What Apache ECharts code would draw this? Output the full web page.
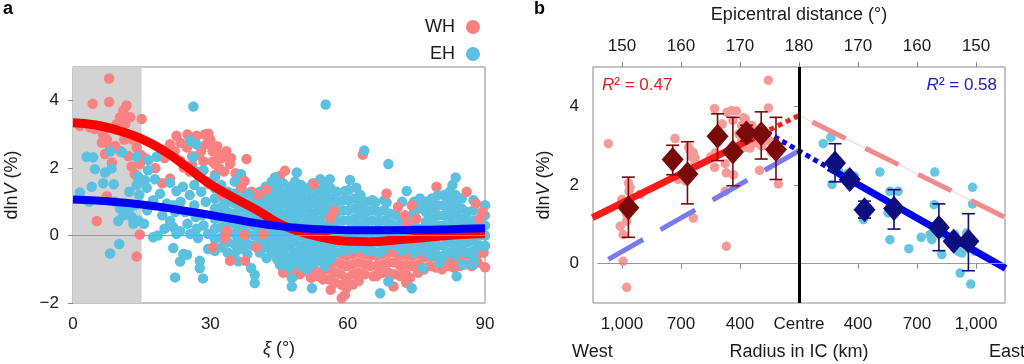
<!DOCTYPE html>
<html><head><meta charset="utf-8">
<script src="https://cdn.jsdelivr.net/npm/echarts@6/dist/echarts.min.js"></script>
<style>html,body{margin:0;padding:0;background:#fff}#c{width:1024px;height:364px}</style>
</head><body><div id="c"></div>
<script>
// ---------------- Panel a data ----------------
const xiTicks = [0, 30, 60, 90];
const fitXi = [0,5,10,15,20,25,30,35,40,45,50,55,60,65,70,75,80,85,90];
const whFit = [3.35,3.28,3.11,2.87,2.5,2.02,1.52,1.13,0.77,0.36,0.1,-0.07,-0.17,-0.18,-0.14,-0.08,-0.02,0.03,0.06];
const ehFit = [1.07,1.04,0.99,0.92,0.83,0.72,0.61,0.49,0.37,0.28,0.22,0.18,0.16,0.16,0.16,0.17,0.18,0.2,0.22];

// WH (western hemisphere) scattered points
const whPts = [
 [7.9,4.66],[4.3,3.91],[7.9,3.96],[11.7,3.86],[11.0,3.71],[10.3,3.51],[12.5,3.51],[11.4,3.31],[10.0,3.16],[15.0,3.46],
 [3.7,3.21],[4.8,3.16],[1.5,3.25],[6.6,3.0],[6.3,2.76],[7.4,2.86],[8.1,2.61],[7.0,2.42],[9.2,2.66],[10.3,2.51],
 [12.1,2.36],[13.9,2.61],[14.6,2.12],[13.5,1.82],[14.3,1.62],[8.5,2.17],[12.0,3.0],[13.0,2.85],[9.5,3.3],[12.8,2.05],
 [14.8,2.4],[11.2,2.85],[5.2,0.43],[14.6,0.03],[13.9,-0.62],[7.4,1.17],
 [15.7,2.3],[18.0,2.0],[20.0,2.3],[19.5,1.55],[21.2,2.71],[22.6,2.96],[21.2,1.69],[23.4,2.22],[24.2,2.02],[24.9,2.61],
 [23.5,2.75],[25.5,1.9],[26.0,2.35],[26.5,2.75],[27.0,2.96],[27.5,1.75],[28.0,2.5],[28.5,2.2],[29.1,3.0],[29.1,2.71],
 [29.6,3.02],[29.9,2.72],[30.0,2.85],[30.5,2.5],[31.0,2.12],[31.0,1.8],[31.7,2.42],[32.5,2.3],[33.0,1.9],[33.5,2.5],
 [34.3,2.12],[34.5,2.3],[35.5,1.85],[36.0,1.6],[37.9,2.27],[25.0,3.0],[26.0,2.1],[27.5,2.4],[30.5,2.2],[31.5,2.65],
 [32.0,2.0],[28.0,1.9],[22.2,2.5],[28.8,3.0],[39.0,1.3],[44.0,1.5],[45.2,1.77],[46.3,1.92],[63.3,2.40],[79.4,1.45],
 [45.6,-0.56],[45.9,-1.1],[48.2,-1.21],[50.7,-1.06],[52.6,-0.96],[56.3,-1.61],[58.7,-1.46],[58.7,-1.86],[59.4,-1.76],
 [59.8,-1.26],[65.6,-1.21],[70.0,-1.51],[73.6,-1.26],[90.0,-0.94],[46.5,-0.35]
];
// WH dense band below the EH cloud (columns of readings)
const whCloud = [
 [45.6,[-0.9]],[46.9,[-1.1,-0.75]],[48.2,[-1.0]],[49.5,[-0.95,-1.15]],[50.7,[-0.85]],[52.0,[-1.0,-1.25]],
 [53.3,[-1.2]],[54.6,[-1.05,-1.3]],[55.9,[-1.0,-1.3]],[57.2,[-0.8,-1.1,-1.4]],[58.5,[-0.55,-0.85,-1.15]],
 [59.8,[-0.6,-0.9,-1.55]],[61.1,[-0.55,-0.85,-1.15,-1.45]],[62.4,[-0.5,-0.8,-1.1,-1.35]],[63.7,[-0.55,-0.85,-1.15]],
 [65.0,[-0.6,-0.9]],[66.3,[-0.6,-0.9,-1.2]],[67.6,[-0.55,-0.85,-1.1]],[68.9,[-0.5,-0.8,-1.1]],[70.2,[-0.5,-0.8,-1.15]],
 [71.5,[-0.6,-0.9,-1.2]],[72.8,[-0.55,-0.85,-1.15,-1.4]],[74.1,[-0.6,-0.9]],[75.4,[-0.55,-0.85,-1.1]],[76.7,[-0.65,-1.0]],
 [78.0,[-0.6,-0.9]],[79.3,[-0.65,-0.95]],[80.6,[-0.7,-1.0]],[81.9,[-0.65,-0.9]],[83.2,[-0.7,-0.95]],[84.5,[-0.6,-0.9]],
 [85.8,[-0.55,-0.85]],[87.1,[-0.6,-0.9]],[88.4,[-0.55,-0.8]],[89.7,[-0.5]]
];
// WH points that sit on top of the EH cloud
const whTopPts = [
 [29.6,1.52],[32.5,1.22],[36.8,1.42],[37.5,1.62],[40.5,1.22],[42.3,1.37],[30.6,-0.35],[34.3,-0.75],[33.2,-0.07],
 [37.5,0.03],[37.6,-0.75],[40.1,-0.35],[41.6,0.05],[33.6,0.15],[52.6,1.52],[57.0,0.73],[56.3,0.53],[68.5,1.25],
 [71.0,0.85],[72.5,0.6],[74.0,0.9],[75.0,0.5],[73.0,0.35],[88.0,0.95],[89.5,0.7],[88.8,0.5],[86.0,1.3]
];

// EH (eastern hemisphere) scattered points
const ehPts = [
 [1.5,1.28],[3.0,2.34],[4.4,2.32],[4.1,1.45],[4.8,1.97],[6.6,1.55],[7.0,1.87],[8.9,1.52],[8.4,1.99],[8.1,2.49],
 [10.7,2.47],[13.9,2.34],[13.9,1.5],[10.3,0.8],[9.9,0.43],[11.0,0.6],[13.2,0.35],[14.3,0.45],[12.1,0.75],[12.8,0.55],
 [10.1,-0.25],[8.1,-0.53],[3.5,1.0],[9.2,1.0],[11.5,0.95],[13.5,0.9],[14.5,1.2],[14.2,1.75],[12.3,1.3],
 [15.7,1.64],[16.4,1.94],[16.5,2.24],[16.1,1.42],[17.5,1.05],[16.2,0.75],[15.5,0.35],[17.5,-0.05],[17.9,1.67],
 [18.3,2.34],[19.0,1.24],[19.5,0.6],[20.5,0.95],[21.2,1.57],[22.6,1.32],[21.9,0.9],[22.3,0.7],[21.2,0.43],[21.9,0.25],
 [22.6,0.05],[23.4,0.13],[21.9,-0.37],[22.3,-1.24],[24.1,-0.55],[24.9,-0.57],[23.4,-0.77],[23.5,1.0],[24.0,1.45],
 [24.5,0.7],[25.0,0.35],[25.6,0.05],[25.5,1.2],[26.3,1.94],[26.5,1.5],[26.5,0.9],[26.8,0.55],[27.3,-0.07],[27.0,0.2],
 [27.7,1.82],[27.7,-0.97],[28.4,-1.27],[28.0,1.3],[28.2,0.6],[28.5,1.94],[28.5,0.3],[29.0,1.0],[29.5,1.6],[29.5,0.05],
 [29.5,-0.4],[26.3,3.83],[25.6,2.81],[27.0,2.71],[26.3,2.32],[27.7,-0.75],[20.0,0.2],[18.5,0.0],
 [67.1,-1.71],[74.0,-1.56],[68.9,-1.36],[76.5,-0.96],[80.1,-0.81],[83.8,-1.21],[87.4,-0.86],[85.2,-0.86],[63.6,2.52],
 [68.9,2.12],[72.9,1.32],[59.4,1.32],[61.9,1.42],[55.2,3.89],[44.1,1.72],[48.9,1.87],[54.0,1.67],[56.1,1.67],
 [52.2,-1.56],[47.8,-1.51],[45.2,-0.86],[42.3,-0.67],[36.1,-0.76],[38.9,-0.96],[39.7,-1.16],[39.7,-1.41],[47.8,-1.26],
 [66.0,0.98],[68.5,0.98],[60.5,1.65],[82.9,1.5]
];
// EH dense cloud (columns of readings)
const ehCloud = [
 [31.0,[1.74,1.4,1.1,0.8,0.5,0.2,-0.1,-0.45]],[32.4,[1.5,1.15,0.85,0.55,0.25,-0.05,-0.35]],
 [33.8,[1.3,1.0,0.7,0.4,0.1,-0.2,-0.5]],[35.3,[1.6,1.25,0.95,0.65,0.35,0.05,-0.25,-0.55]],
 [36.7,[1.82,1.4,1.1,0.8,0.5,0.2,-0.1,-0.4]],[38.1,[1.25,0.95,0.65,0.35,0.05,-0.25,-0.55]],
 [39.5,[1.17,0.9,0.6,0.3,0.0,-0.3]],[40.8,[1.3,1.0,0.7,0.4,0.1,-0.2,-0.5]],
 [42.1,[1.45,1.15,0.85,0.55,0.25,-0.05,-0.35]],[43.4,[1.6,1.3,1.0,0.7,0.4,0.1,-0.2,-0.5]],
 [44.6,[1.4,1.1,0.8,0.5,0.2,-0.1,-0.4,-0.7]],[45.9,[1.55,1.25,0.95,0.65,0.35,0.05,-0.25,-0.55,-0.85]],
 [47.2,[1.45,1.15,0.85,0.55,0.25,-0.05,-0.35,-0.65,-0.95]],[48.5,[1.6,1.3,1.0,0.7,0.4,0.1,-0.2,-0.5,-0.8]],
 [49.8,[1.5,1.2,0.9,0.6,0.3,0.0,-0.3,-0.6,-0.9]],[51.1,[1.4,1.1,0.8,0.5,0.2,-0.1,-0.4,-0.7,-1.0]],
 [52.4,[1.55,1.25,0.95,0.65,0.35,0.05,-0.25,-0.55,-0.85]],[53.7,[1.35,1.05,0.75,0.45,0.15,-0.15,-0.45,-0.75]],
 [55.0,[1.5,1.2,0.9,0.6,0.3,0.0,-0.3,-0.6,-0.9]],[56.3,[1.4,1.1,0.8,0.5,0.2,-0.1,-0.4,-0.7]],
 [57.6,[1.3,1.0,0.7,0.4,0.1,-0.2,-0.5]],[58.9,[1.05,0.75,0.45,0.15,-0.15,-0.45]],
 [60.2,[1.35,1.05,0.75,0.45,0.15,-0.15,-0.4]],[61.5,[1.1,0.8,0.5,0.2,-0.1,-0.4]],
 [62.8,[1.2,0.9,0.6,0.3,0.0,-0.3]],[64.1,[1.0,0.7,0.4,0.1,-0.2,-0.45]],
 [65.4,[1.05,0.75,0.45,0.15,-0.15,-0.45]],[66.7,[0.7,0.4,0.1,-0.2,-0.5]],
 [68.0,[1.05,0.75,0.45,0.15,-0.15,-0.4]],[69.3,[0.65,0.35,0.05,-0.25]],
 [70.6,[0.6,0.3,0.0,-0.3]],[71.9,[1.0,0.4,0.1,-0.2,-0.45]],
 [73.2,[0.55,0.25,-0.05,-0.35]],[74.5,[1.0,0.7,0.4,0.1,-0.2,-0.5]],
 [75.8,[1.1,0.8,0.2,-0.1,-0.4]],[77.1,[1.0,0.7,0.4,0.1,-0.2,-0.5]],
 [78.4,[1.1,0.8,0.5,0.2,-0.1,-0.4,-0.6]],[79.7,[1.2,0.9,0.6,0.3,0.0,-0.3,-0.6]],
 [81.0,[1.2,0.9,0.6,0.3,0.0,-0.3,-0.6]],[82.3,[1.3,1.0,0.7,0.4,0.1,-0.2,-0.5]],
 [83.6,[1.72,1.2,0.9,0.6,0.3,0.0,-0.3,-0.6]],[84.9,[1.1,0.8,0.5,0.2,-0.1,-0.4]],
 [86.2,[0.7,0.4,0.1,-0.2,-0.5]],[87.5,[1.05,0.75,0.45,0.15,-0.15,-0.45,-0.7]],
 [88.8,[0.3,0.0,-0.3]],[90.0,[0.9,0.6,0.3,0.0,-0.3]]
];

// ---------------- Panel b data ----------------
// x = signed epicentral offset from 180 deg (West negative, East positive)
const bTicks = [-30, -20, -10, 0, 10, 20, 30];
const radiusLabels = ['1,000', '700', '400', 'Centre', '400', '700', '1,000'];
const epiLabels = ['150', '160', '170', '180', '170', '160', '150'];
const bWhPts = [
 [-32.3,3.05],[-29.8,0.06],[-29.2,-0.60],[-30.0,1.63],[-30.3,0.95],[-29.8,0.74],[-28.9,2.05],[-28.8,1.84],[-26.9,1.76],
 [-29.2,1.08],[-29.2,1.26],[-28.6,1.94],[-21.0,3.18],[-20.5,2.14],[-19.3,2.11],[-18.7,2.96],[-18.5,2.90],[-18.1,2.71],
 [-17.9,2.82],[-17.6,2.69],[-17.6,2.54],[-17.9,1.16],[-15.0,2.71],[-14.3,3.94],[-14.2,2.82],[-14.3,2.45],[-12.5,1.84],
 [-12.3,0.44],[-12.3,2.31],[-12.5,2.54],[-11.1,2.26],[-12.2,3.85],[-11.4,3.89],[-10.6,3.88],[-11.2,3.64],[-9.4,3.71],
 [-9.7,3.51],[-9.1,3.68],[-8.0,3.51],[-9.7,3.11],[-9.1,2.96],[-8.3,2.94],[-7.2,3.07],[-6.3,2.99],[-6.7,2.37],
 [-5.2,4.66],[-5.2,3.96],[-5.1,3.13],[-4.6,2.82],[-3.5,2.03],[-10.2,3.3],[-13.0,3.55]
];
const bEhPts = [
 [4.1,3.05],[5.4,3.21],[5.6,2.01],[6.7,2.35],[9.4,2.22],[8.3,2.3],[10.9,1.12],[13.7,2.33],[15.4,1.84],[16.8,1.84],
 [15.4,0.61],[15.1,1.29],[18.6,0.38],[20.7,0.67],[22.2,0.74],[23.0,2.33],[22.5,0.61],[24.2,0.23],[22.9,1.50],
 [26.4,0.74],[27.0,0.31],[27.6,0.27],[29.4,1.94],[29.4,1.52],[29.8,0.31],[27.3,-0.24],[29.1,-0.52],[28.4,0.78],
 [25.9,0.55],[24.5,0.75]
];
// bins: [x, mean, low, high]
const westBins = [[-28.9,1.42,0.67,2.20],[-21.4,2.65,2.26,3.01],[-18.9,2.28,1.52,3.10],[-13.8,3.24,2.62,3.81],
 [-11.2,2.84,1.98,3.72],[-8.9,3.32,3.12,3.52],[-6.4,3.30,2.66,3.86],[-3.9,2.90,2.14,3.72]];
const eastBins = [[6.1,2.56,2.08,3.05],[8.6,2.14,2.03,2.26],[11.1,1.37,1.16,1.59],[16.1,1.40,0.88,1.88],
 [23.7,0.92,0.33,1.52],[26.2,0.57,0.47,0.67],[28.7,0.57,-0.18,1.27]];
const westFitSolid = [[-35,1.17],[-7.7,3.20]];
const westFitDotted = [[-7.7,3.20],[0,3.77]];
const westFitMirror = [[0,3.77],[35,1.17]];
const eastFitSolid = [[5,2.44],[35,-0.12]];
const eastFitDotted = [[-5.5,3.34],[5,2.44]];
const eastFitMirror = [[-32.3,0.11],[0,2.87]];

// ---------------- Chart ----------------
const FONT = "'Liberation Sans', Arial, Helvetica, sans-serif";
const TXT = '#1a1a1a';
const C_WH = '#F88282', C_EH = '#5CC0DF';
const C_WH_B = '#F79A9A', C_EH_B = '#66C5E0';
const flat = cols => cols.flatMap(c => c[1].map(v => [c[0], v]));
const minus = v => String(v).replace('-', '\u2212');

function errRender(color) {
  return function (params, api) {
    const x = api.value(0), lo = api.value(2), hi = api.value(3);
    const a = api.coord([x, lo]), b = api.coord([x, hi]);
    const w = 6.5, st = { stroke: color, lineWidth: 1.6 };
    return { type: 'group', children: [
      { type: 'line', shape: { x1: a[0], y1: a[1], x2: b[0], y2: b[1] }, style: st },
      { type: 'line', shape: { x1: a[0] - w, y1: a[1], x2: a[0] + w, y2: a[1] }, style: st },
      { type: 'line', shape: { x1: b[0] - w, y1: b[1], x2: b[0] + w, y2: b[1] }, style: st }
    ]};
  };
}
const lineSeg = (data, color, width, type, z, extra) => Object.assign({
  type: 'line', xAxisIndex: 1, yAxisIndex: 1, data: data, showSymbol: false, silent: true, z: z,
  lineStyle: { color: color, width: width, type: type || 'solid', cap: 'butt' }, animation: false
}, extra || {});
const dot = c => ({ color: c, opacity: 1 });

const tickStyle = { show: true, length: 5, lineStyle: { color: '#888', width: 1 } };
const lab = { fontSize: 17, color: TXT, fontFamily: FONT };

const option = {
  animation: false,
  textStyle: { fontFamily: FONT },
  grid: [
    { left: 73, top: 67, width: 412, height: 236, show: true, borderColor: '#8a8a8a', borderWidth: 1, backgroundColor: 'transparent' },
    { left: 593, top: 67, width: 412, height: 236, show: true, borderColor: '#8a8a8a', borderWidth: 1, backgroundColor: 'transparent' }
  ],
  legend: {
    data: ['WH', 'EH'], orient: 'vertical', right: 539, top: 13, align: 'right',
    itemWidth: 14, itemHeight: 14, itemGap: 9, icon: 'circle',
    textStyle: { fontSize: 18, color: TXT, fontFamily: FONT, padding: [0, 6, 0, 0] }
  },
  xAxis: [
    { gridIndex: 0, type: 'value', min: 0, max: 90, interval: 30,
      axisLine: { show: false }, axisTick: tickStyle, splitLine: { show: false },
      axisLabel: Object.assign({ margin: 13 }, lab),
      name: '{i|ξ} (°)', nameLocation: 'middle', nameGap: 37,
      nameTextStyle: { fontSize: 18, color: TXT, fontFamily: FONT, rich: { i: { fontStyle: 'italic', fontSize: 18, fontFamily: FONT, color: TXT } } } },
    { gridIndex: 1, type: 'value', min: -34.9, max: 34.9, position: 'bottom',
      axisLine: { show: false }, splitLine: { show: false },
      axisTick: Object.assign({ customValues: bTicks }, tickStyle),
      axisLabel: Object.assign({ margin: 13, customValues: bTicks,
        formatter: v => radiusLabels[bTicks.indexOf(Math.round(v))] }, lab) },
    { gridIndex: 1, type: 'value', min: -34.9, max: 34.9, position: 'top',
      axisLine: { show: false }, splitLine: { show: false },
      axisTick: Object.assign({ customValues: bTicks }, tickStyle),
      axisLabel: Object.assign({ margin: 12, customValues: bTicks,
        formatter: v => epiLabels[bTicks.indexOf(Math.round(v))] }, lab) }
  ],
  yAxis: [
    { gridIndex: 0, type: 'value', min: -2, max: 5, interval: 2,
      axisLine: { show: false }, splitLine: { show: false },
      axisTick: Object.assign({ customValues: [-2, 0, 2, 4] }, tickStyle),
      axisLabel: Object.assign({ margin: 14, customValues: [-2, 0, 2, 4], formatter: minus }, lab),
      name: 'dln{i|V} (%)', nameLocation: 'middle', nameGap: 52, nameRotate: 90,
      nameTextStyle: { fontSize: 18, color: TXT, fontFamily: FONT, rich: { i: { fontStyle: 'italic', fontSize: 18, fontFamily: FONT, color: TXT } } } },
    { gridIndex: 1, type: 'value', min: -1, max: 5,
      axisLine: { show: false }, splitLine: { show: false },
      axisTick: Object.assign({ customValues: [0, 2, 4] }, tickStyle),
      axisLabel: Object.assign({ margin: 14, customValues: [0, 2, 4], formatter: minus }, lab),
      name: 'dln{i|V} (%)', nameLocation: 'middle', nameGap: 40, nameRotate: 90,
      nameTextStyle: { fontSize: 18, color: TXT, fontFamily: FONT, rich: { i: { fontStyle: 'italic', fontSize: 18, fontFamily: FONT, color: TXT } } } }
  ],
  series: [
    // panel a background: shaded band and zero line
    { type: 'line', xAxisIndex: 0, yAxisIndex: 0, data: [[0, 0]], showSymbol: false, silent: true, z: 1,
      lineStyle: { opacity: 0 },
      markArea: { silent: true, itemStyle: { color: '#D3D3D3' }, data: [[{ xAxis: 0 }, { xAxis: 15 }]] },
      markLine: { silent: true, symbol: 'none', label: { show: false }, lineStyle: { color: '#9a9a9a', width: 1, type: 'solid' }, data: [{ yAxis: 0 }] } },
    { name: 'WH', type: 'scatter', xAxisIndex: 0, yAxisIndex: 0, symbol: 'circle', symbolSize: 10.5, z: 2,
      itemStyle: dot(C_WH), data: whPts.concat(flat(whCloud)), silent: true },
    { name: 'EH', type: 'scatter', xAxisIndex: 0, yAxisIndex: 0, symbol: 'circle', symbolSize: 10.5, z: 2,
      itemStyle: dot(C_EH), data: ehPts.concat(flat(ehCloud)), silent: true },
    { name: 'WH', type: 'scatter', xAxisIndex: 0, yAxisIndex: 0, symbol: 'circle', symbolSize: 10.5, z: 2,
      itemStyle: dot(C_WH), data: whTopPts, silent: true },
    { type: 'line', xAxisIndex: 0, yAxisIndex: 0, smooth: true, showSymbol: false, silent: true, z: 3,
      data: fitXi.map((x, i) => [x, whFit[i]]), lineStyle: { color: '#FF0000', width: 9 } },
    { type: 'line', xAxisIndex: 0, yAxisIndex: 0, smooth: true, showSymbol: false, silent: true, z: 3,
      data: fitXi.map((x, i) => [x, ehFit[i]]), lineStyle: { color: '#0000FF', width: 8 } },

    // panel b
    { type: 'line', xAxisIndex: 1, yAxisIndex: 1, data: [[0, 0]], showSymbol: false, silent: true, z: 1,
      lineStyle: { opacity: 0 },
      markLine: { silent: true, symbol: 'none', label: { show: false }, lineStyle: { color: '#9a9a9a', width: 1, type: 'solid' },
        data: [[{ coord: [-34.2, 0] }, { coord: [34.9, 0] }]] } },
    { type: 'scatter', xAxisIndex: 1, yAxisIndex: 1, symbolSize: 9.5, z: 2, silent: true,
      itemStyle: dot(C_WH_B), data: bWhPts },
    { type: 'scatter', xAxisIndex: 1, yAxisIndex: 1, symbolSize: 9.5, z: 2, silent: true,
      itemStyle: dot(C_EH_B), data: bEhPts },
    lineSeg(westFitMirror, '#F7CDCD', 1, 'solid', 3),
    lineSeg(eastFitMirror, '#7A7AF0', 5, [40, 20], 3),
    lineSeg(westFitMirror, '#F28B8B', 5, [37, 22], 3, {}),
    lineSeg(westFitSolid, '#FF1A1A', 7, 'solid', 4),
    lineSeg(westFitDotted, '#FF1A1A', 5, [5, 4], 4),
    lineSeg(eastFitSolid, '#0000F0', 7, 'solid', 4),
    lineSeg(eastFitDotted, '#0000F0', 5, [5, 4], 4),
    { type: 'custom', xAxisIndex: 1, yAxisIndex: 1, renderItem: errRender('#7A0A0A'), data: westBins, z: 5, silent: true,
      encode: { x: 0, y: 1 } },
    { type: 'custom', xAxisIndex: 1, yAxisIndex: 1, renderItem: errRender('#0D0D80'), data: eastBins, z: 5, silent: true,
      encode: { x: 0, y: 1 } },
    { type: 'scatter', xAxisIndex: 1, yAxisIndex: 1, symbol: 'diamond', symbolSize: [22, 25], z: 6, silent: true,
      itemStyle: dot('#7A0A0A'), data: westBins.map(d => [d[0], d[1]]) },
    { type: 'scatter', xAxisIndex: 1, yAxisIndex: 1, symbol: 'diamond', symbolSize: [22, 25], z: 6, silent: true,
      itemStyle: dot('#0D0D80'), data: eastBins.map(d => [d[0], d[1]]) },
    { type: 'line', xAxisIndex: 1, yAxisIndex: 1, data: [[0, 0]], showSymbol: false, silent: true, z: 7,
      lineStyle: { opacity: 0 },
      markLine: { silent: true, symbol: 'none', label: { show: false }, lineStyle: { color: '#000', width: 3, type: 'solid' },
        data: [{ xAxis: 0 }] } }
  ],
  graphic: [
    { type: 'text', left: 3, top: 0, style: { text: 'a', font: 'bold 18px ' + FONT, fill: '#000' } },
    { type: 'text', left: 534, top: 0, style: { text: 'b', font: 'bold 18px ' + FONT, fill: '#000' } },
    { type: 'text', x: 799, y: 15, style: { text: 'Epicentral distance (°)', font: '18px ' + FONT, fill: TXT, align: 'center', verticalAlign: 'middle' } },
    { type: 'text', x: 572, y: 352, style: { text: 'West', font: '18px ' + FONT, fill: TXT, align: 'left', verticalAlign: 'middle' } },
    { type: 'text', x: 799, y: 352, style: { text: 'Radius in IC (km)', font: '18px ' + FONT, fill: TXT, align: 'center', verticalAlign: 'middle' } },
    { type: 'text', x: 989, y: 352, style: { text: 'East', font: '18px ' + FONT, fill: TXT, align: 'left', verticalAlign: 'middle' } },
    { type: 'text', x: 602, y: 85, style: { text: '{i|R}{s|²} = 0.47', fill: '#E01E1E', align: 'left', verticalAlign: 'middle',
      font: '17px ' + FONT, rich: { i: { fontStyle: 'italic', fontSize: 17, fontFamily: FONT, fill: '#E01E1E' }, s: { fontSize: 17, fontFamily: FONT, fill: '#E01E1E' } } } },
    { type: 'text', x: 997, y: 85, style: { text: '{i|R}{s|²} = 0.58', fill: '#2020B4', align: 'right', verticalAlign: 'middle',
      font: '17px ' + FONT, rich: { i: { fontStyle: 'italic', fontSize: 17, fontFamily: FONT, fill: '#2020B4' }, s: { fontSize: 17, fontFamily: FONT, fill: '#2020B4' } } } }
  ]
};
// right red mirror dashes offset
option.series[11].lineStyle.dashOffset = 44;

const chart = echarts.init(document.getElementById('c'));
chart.setOption(option);
</script>
</body></html>
